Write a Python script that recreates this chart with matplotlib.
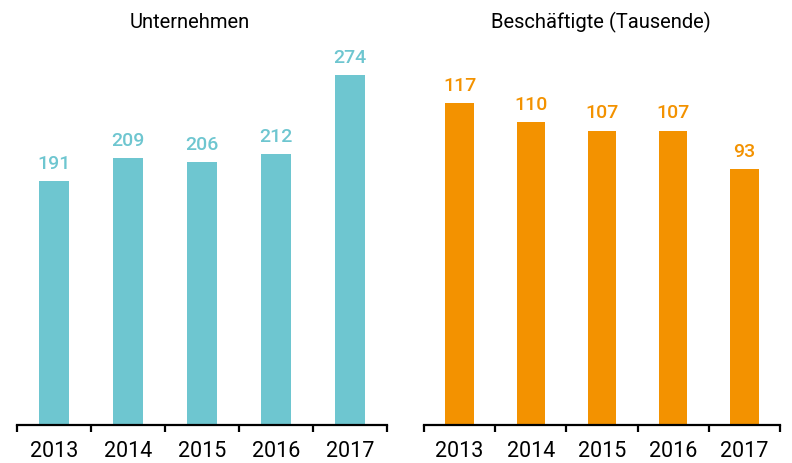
import matplotlib
matplotlib.use("Agg")
import matplotlib.pyplot as plt

# Data
years = ["2013", "2014", "2015", "2016", "2017"]
firms = [191, 209, 206, 212, 274]
jobs = [117, 110, 107, 107, 93]
titles = ["Unternehmen", "Beschäftigte (Tausende)"]

teal = "#6EC6D0"
orange = "#F39200"

plt.rcParams["font.family"] = ["Roboto", "Liberation Sans", "DejaVu Sans"]

W, H = 792, 464
fig = plt.figure(figsize=(W / 100, H / 100), dpi=100)

def px(x0, y0, x1, y1):
    return [x0 / W, 1 - y1 / H, (x1 - x0) / W, (y1 - y0) / H]

ax1 = fig.add_axes(px(17, 40, 387, 426))
ax2 = fig.add_axes(px(424, 40, 780, 426))

panels = [(ax1, firms, teal, 386 / 1.277, 190),
          (ax2, jobs, orange, 386 / 2.752, 601)]

for (ax, vals, col, top, tx), title in zip(panels, titles):
    x = range(len(years))
    ax.bar(x, vals, width=0.4, color=col)
    for i, v in enumerate(vals):
        ax.annotate(str(v), (i, v), xytext=(0, 9.5), textcoords="offset points",
                    ha="center", va="baseline", color=col, fontsize=14,
                    fontweight="medium")
    ax.set_xlim(-0.5, len(years) - 0.5)
    ax.set_ylim(0, top)
    for s in ["top", "right", "left"]:
        ax.spines[s].set_visible(False)
    ax.spines["bottom"].set_linewidth(1.6)
    ax.set_yticks([])
    ax.set_xticks(list(x))
    ax.set_xticklabels(years, fontsize=15.5)
    ax.tick_params(axis="x", which="major", length=0, pad=11)
    ax.set_xticks([i - 0.5 for i in range(len(years) + 1)], minor=True)
    ax.tick_params(axis="x", which="minor", length=5, width=1.6, direction="out")
    fig.text(tx / W, 1 - 28 / H, title, ha="center", va="baseline", fontsize=14.5)

fig.savefig("out.png", dpi=100)
